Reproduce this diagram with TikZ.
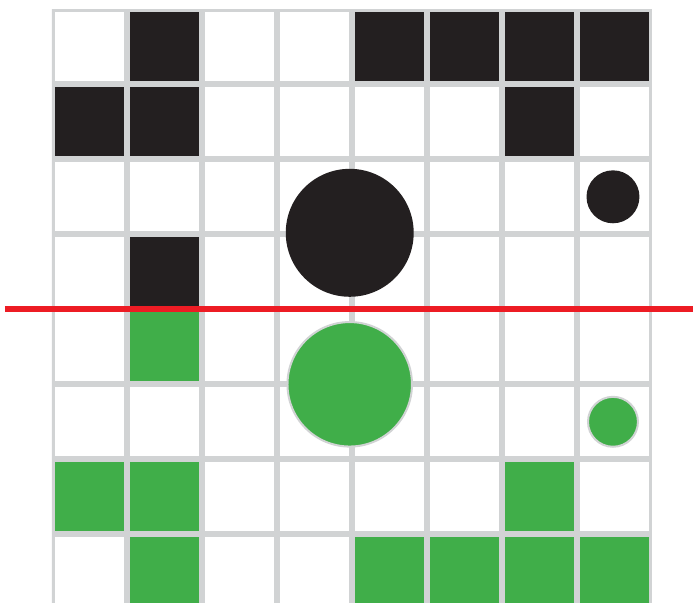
\documentclass[tikz,border=0pt]{standalone}
\definecolor{cellblack}{RGB}{35,31,32}
\definecolor{cellgreen}{RGB}{64,174,73}
\definecolor{gridgray}{RGB}{209,211,212}
\definecolor{cutred}{RGB}{237,28,36}
\usepackage{tikz}
\begin{document}
\begin{tikzpicture}[
    blackcell/.style={fill=cellblack},
    greencell/.style={fill=cellgreen},
    greendot/.style={fill=cellgreen, draw=gridgray, line width=0.027cm}]
                    \useasboundingbox (-0.693,0.097) rectangle (8.547,8.124);

                    % Grid
                    \begin{scope}
                        \clip (0,0) rectangle (8,8);
                        \draw[gridgray, line width=0.08cm] (0,0) grid (8,8);
                    \end{scope}

                    % Upper half: black cells
                    \foreach \x/\y in {1/7,4/7,5/7,6/7,7/7,0/6,1/6,6/6,1/4}
                        \fill[blackcell] (\x+0.04,\y+0.04) rectangle (\x+0.96,\y+0.96);

                    % Upper half: black dots
                    \fill[cellblack] (3.97,5.02) circle (0.853);
                    \fill[cellblack] (7.48,5.5) circle (0.353);

                    % Lower half: green cells
                    \foreach \x/\y in {1/3,0/1,1/1,6/1,1/0,4/0,5/0,6/0,7/0}
                        \fill[greencell] (\x+0.04,\y+0.04) rectangle (\x+0.96,\y+0.96);

                    % Lower half: green dots
                    \filldraw[greendot] (3.97,3) circle (0.83);
                    \filldraw[greendot] (7.48,2.5) circle (0.333);

                    % Mirror line
                    \draw[cutred, line width=0.08cm] (-0.627,4) -- (8.547,4);
                \end{tikzpicture}
\end{document}
